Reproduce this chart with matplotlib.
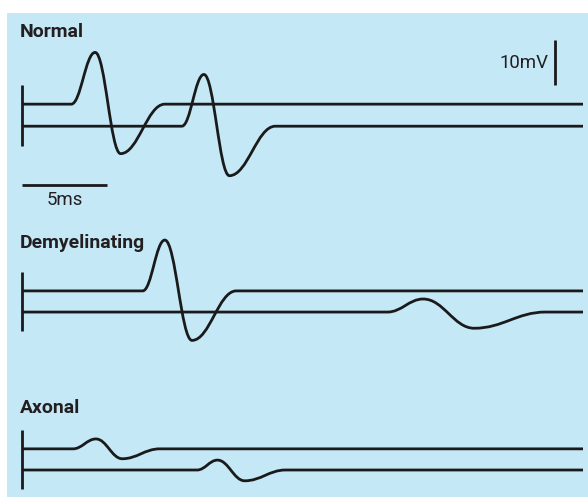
import numpy as np
import matplotlib
matplotlib.use("Agg")
import matplotlib.pyplot as plt
from matplotlib.path import Path
from matplotlib.patches import PathPatch, Rectangle
from matplotlib.font_manager import FontProperties

# Nerve conduction traces: each response is described by its onset, peak,
# trough and return-to-baseline (time in ms, amplitude in mV)
panels = ["Normal", "Demyelinating", "Axonal"]

normal_onset = [2.9, 9.4]
normal_peak = [(4.3, 11.5), (10.7, 11.5)]
normal_trough = [(5.8, -11.0), (12.2, -11.0)]
normal_return = [8.4, 14.9]

demyel_onset = [7.1, 21.5]
demyel_peak = [(8.4, 11.3), (23.6, 2.9)]
demyel_trough = [(10.0, -11.0), (26.6, -3.6)]
demyel_return = [12.6, 30.8]

axonal_onset = [3.0, 10.3]
axonal_peak = [(4.35, 2.2), (11.5, 2.2)]
axonal_trough = [(5.9, -2.2), (13.1, -2.4)]
axonal_return = [8.1, 15.5]

sweep_ms = 33.0
time_bar_ms = 5
volt_bar_mv = 10

# layout (mV above the bottom edge of the figure)
baselines = {"Normal": [87.3, 82.4], "Demyelinating": [45.8, 41.1], "Axonal": [10.7, 6.0]}
title_y = {"Normal": 103.3, "Demyelinating": 56.4, "Axonal": 19.8}

BG = "#c5e8f7"
INK = "#1a1a1a"
TXT = "#231f20"

fig = plt.figure(figsize=(5.88, 4.97), dpi=100)
fig.patch.set_facecolor("white")
renderer = fig.canvas.get_renderer()

# narrowest sans available for the labels
candidates = [("Liberation Sans Narrow", "normal"), ("DejaVu Sans", "condensed"),
              ("Noto Sans", "condensed"), ("Open Sans", "condensed"),
              ("Roboto", "condensed"), ("Liberation Sans", "normal")]
best, best_w = None, 1e9
for fam, st in candidates:
    fp = FontProperties(family=fam, stretch=st, weight="bold", size=14.5)
    t = fig.text(0, 0, "Demyelinating", fontproperties=fp)
    w = t.get_window_extent(renderer).width
    t.remove()
    if w < best_w:
        best, best_w = (fam, st), w
family, stretch = best
# shrink if the font is still wider than a condensed face
scale = min(1.0, 125 / best_w)
title_size = 14.5 * scale
small_size = 14 * scale

# x: 17 px per ms, 0 ms at 22 px; y: 4.5 px per mV
ax = fig.add_axes([7 / 588, 0, 581 / 588, 484 / 497])
ax.set_xlim((7 - 22) / 17, (588 - 22) / 17)
ax.set_ylim(0, 484 / 4.5)
ax.axis("off")
ax.add_patch(Rectangle((0, 0), 1, 1, transform=ax.transAxes, color=BG, zorder=0))


def trace(base, onset, peak, trough, ret, k=0.4):
    pts = [(onset, 0.0), peak, trough, (ret, 0.0)]
    verts = [(0, base), (onset, base)]
    codes = [Path.MOVETO, Path.LINETO]
    for (x0, y0), (x1, y1) in zip(pts[:-1], pts[1:]):
        dx = x1 - x0
        verts += [(x0 + k * dx, base + y0), (x1 - k * dx, base + y1), (x1, base + y1)]
        codes += [Path.CURVE4] * 3
    verts.append((sweep_ms, base))
    codes.append(Path.LINETO)
    ax.add_patch(PathPatch(Path(verts, codes), fill=False, lw=2.0, ec=INK,
                           capstyle="butt", joinstyle="round"))


data = {
    "Normal": (normal_onset, normal_peak, normal_trough, normal_return),
    "Demyelinating": (demyel_onset, demyel_peak, demyel_trough, demyel_return),
    "Axonal": (axonal_onset, axonal_peak, axonal_trough, axonal_return),
}

for name in panels:
    onsets, peaks, troughs, rets = data[name]
    top, bottom = baselines[name]
    for base, on, pk, tr, rt in zip(baselines[name], onsets, peaks, troughs, rets):
        trace(base, on, pk, tr, rt)
    # stimulus marker
    ax.plot([0, 0], [bottom - 4.3, top + 4.3], color=INK, lw=2.0, solid_capstyle="butt")
    ax.text(-0.12, title_y[name], name, family=family, stretch=stretch, weight="bold",
            fontsize=title_size, color=TXT, ha="left", va="center")

# calibration bars
bar_y = (497 - 185) / 4.5
ax.plot([0, time_bar_ms], [bar_y, bar_y], color=INK, lw=2.0, solid_capstyle="butt")
ax.text(time_bar_ms / 2, bar_y - 1.4, f"{time_bar_ms}ms", family=family, stretch=stretch,
        fontsize=small_size, color=TXT, ha="center", va="top")

vx = (555 - 22) / 17
vtop = (497 - 40) / 4.5
ax.plot([vx, vx], [vtop - volt_bar_mv, vtop], color=INK, lw=2.0, solid_capstyle="butt")
ax.text(vx - 0.4, vtop - volt_bar_mv / 2, f"{volt_bar_mv}mV", family=family, stretch=stretch,
        fontsize=small_size, color=TXT, ha="right", va="center")

fig.savefig("out.png", dpi=100, facecolor="white")
